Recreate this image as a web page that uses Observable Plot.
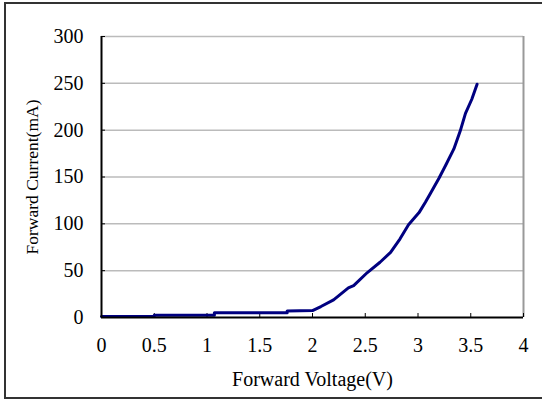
<!DOCTYPE html>
<html><head><meta charset="utf-8">
<script src="https://cdn.jsdelivr.net/npm/d3@7"></script>
<script src="https://cdn.jsdelivr.net/npm/@observablehq/plot@0.6"></script>
<style>
html,body{margin:0;padding:0;background:#fff;overflow:hidden;}
#wrap{position:relative;width:542px;height:401px;}
#border{position:absolute;left:4px;top:2px;width:600px;height:397px;border:2px solid #333;box-sizing:border-box;pointer-events:none;}
</style></head><body><div id="wrap"><div id="border"></div></div>
<script>
const voltage = [0, 0.5, 0.5, 1.07, 1.07, 1.76, 1.76, 2.0, 2.08, 2.2, 2.34, 2.39, 2.52, 2.64, 2.74, 2.83, 2.91, 3.01, 3.07, 3.12, 3.2, 3.26, 3.34, 3.4, 3.45, 3.51, 3.56];
const current = [1, 1, 2.5, 2.5, 5, 5, 7, 7.4, 11.7, 18.8, 31.6, 34, 48, 59, 69.5, 84, 99, 112, 123, 133, 149, 162, 180, 199, 218, 233, 249];
const xTicks = [0, 0.5, 1, 1.5, 2, 2.5, 3, 3.5, 4];
const yTicks = [0, 50, 100, 150, 200, 250, 300];
const xLabel = "Forward Voltage(V)";
const yLabel = "Forward Current(mA)";
const data = voltage.map((v, k) => ({v, i: current[k]}));
const chart = Plot.plot({
  width: 542, height: 401,
  marginLeft: 101, marginRight: 19, marginTop: 36, marginBottom: 84,
  style: {fontFamily: "Liberation Serif", fontSize: "20px", background: "transparent", color: "#000"},
  x: {domain: [0, 4]},
  y: {domain: [0, 300]},
  marks: [
    Plot.gridY(yTicks.slice(1), {stroke: "#bbb", strokeOpacity: 1, strokeWidth: 1.5}),
    Plot.ruleX([4], {stroke: "#999", strokeWidth: 2}),
    Plot.axisY(yTicks, {tickSize: -4, tickPadding: 22, label: null, tickFormat: d => String(d)}),
    Plot.axisY({label: yLabel, labelAnchor: "center", labelArrow: "none", labelOffset: 76, fontSize: "17.5px", tickSize: 0, tickFormat: () => ""}),
    Plot.axisX(xTicks, {tickSize: -4, tickPadding: 24, label: xLabel, labelAnchor: "center", labelArrow: "none", labelOffset: 68, tickFormat: d => String(d)}),
    Plot.line(data, {x: "v", y: "i", stroke: "#000080", strokeWidth: 3}),
    Plot.ruleX([0], {stroke: "#000", strokeWidth: 2}),
    Plot.ruleY([0], {stroke: "#000", strokeWidth: 2})
  ]
});
document.getElementById("wrap").prepend(chart);
</script></body></html>
